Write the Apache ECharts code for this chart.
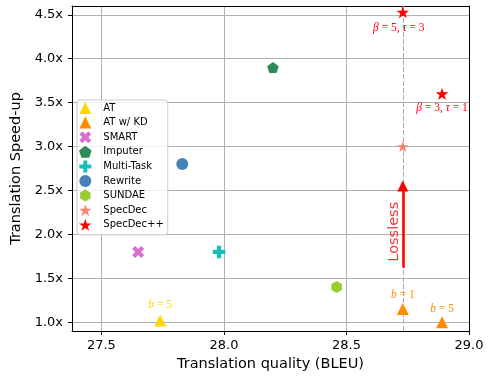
<!DOCTYPE html>
<html>
<head>
<meta charset="utf-8">
<script src="https://cdn.jsdelivr.net/npm/echarts@6/dist/echarts.min.js"></script>
<style>html,body{margin:0;padding:0;background:#fff}#c{width:490px;height:377px}</style>
</head>
<body>
<div id="c"></div>
<script>
// ---- data (BLEU, speed-up) ----
const atPoints        = [[27.74, 1.02]];
const atKdPoints      = [[28.73, 1.15], [28.89, 1.00]];
const smartPoints     = [[27.65, 1.80]];
const imputerPoints   = [[28.20, 3.90]];
const multiTaskPoints = [[27.98, 1.80]];
const rewritePoints   = [[27.83, 2.80]];
const sundaePoints    = [[28.46, 1.40]];
const specDecPoints   = [[28.73, 3.00]];
const specDecPPPoints = [[28.73, 4.53], [28.89, 3.60]];

const atNotes        = ['b=5'];
const atKdNotes      = ['b=1', 'b=5'];
const specDecPPNotes = ['β=5, τ=3', 'β=3, τ=1'];

const losslessX      = 28.73;
const losslessArrow  = [1.62, 2.55];
const losslessText   = 'Lossless';
const losslessTextAt = [28.693, 2.03];

const xRange = [27.38, 29.0];
const yRange = [0.9, 4.6];
const xName = 'Translation quality (BLEU)';
const yName = 'Translation Speed-up';
const legendNames = ['AT', 'AT w/ KD', 'SMART', 'Imputer', 'Multi-Task', 'Rewrite', 'SUNDAE', 'SpecDec', 'SpecDec++'];

// ---- symbols ----
const TRI  = 'path://M0,-100 L100,100 L-100,100 Z';
const STAR = 'path://M0,-100 L-22.45,-30.9 L-95.11,-30.9 L-36.33,11.8 L-58.78,80.9 L0,38.2 L58.78,80.9 L36.33,11.8 L95.11,-30.9 L22.45,-30.9 Z';
const PENT = 'path://M0,-100 L-95.11,-30.9 L-58.78,80.9 L58.78,80.9 L95.11,-30.9 Z';
const HEX  = 'path://M0,-100 L-86.6,-50 L-86.6,50 L0,100 L86.6,50 L86.6,-50 Z';
const PLUS = 'path://M-10,-30 L-10,-10 L-30,-10 L-30,10 L-10,10 L-10,30 L10,30 L10,10 L30,10 L30,-10 L10,-10 L10,-30 Z';
const XF   = 'path://M-10,-20 L0,-10 L10,-20 L20,-10 L10,0 L20,10 L10,20 L0,10 L-10,20 L-20,10 L-10,0 L-20,-10 Z';

const FONT = 'DejaVu Sans';
const SERIF = 'Liberation Serif';

// split "b=5" into rich text with italic letters and spaced '='
function mathRich(s) {
  return s.split(', ').map(part => {
    const [v, n] = part.split('=');
    return '{i|' + v + '}{n| = ' + n + '}';
  }).join('{n|, }');
}

function withNotes(points, notes, labelOpts) {
  return points.map((p, i) => ({
    value: p,
    label: Object.assign({ show: true, formatter: mathRich(notes[i]) }, labelOpts[i] || {})
  }));
}

const noteStyle = (color) => ({
  fontFamily: SERIF, fontSize: 11.5, color: color,
  rich: {
    i: { fontFamily: SERIF, fontStyle: 'italic', fontSize: 11.5, color: color },
    n: { fontFamily: SERIF, fontStyle: 'normal', fontSize: 11.5, color: color }
  }
});

const series = [
  { name: 'AT', type: 'scatter', symbol: TRI, symbolSize: [12, 12], itemStyle: { color: '#FFD700', opacity: 1 },
    data: withNotes(atPoints, atNotes, [{ position: 'top', distance: 3 }]),
    label: noteStyle('#FFD700'), z: 5 },
  { name: 'AT w/ KD', type: 'scatter', symbol: TRI, symbolSize: [12, 12], itemStyle: { color: '#FF8C00', opacity: 1 },
    data: withNotes(atKdPoints, atKdNotes, [{ position: 'top', distance: 2 }, { position: 'top', distance: 1 }]),
    label: noteStyle('#FF8C00'), z: 5 },
  { name: 'SMART', type: 'scatter', symbol: XF, symbolSize: [12, 12], itemStyle: { color: '#DA70D6', opacity: 1 }, data: smartPoints, z: 5 },
  { name: 'Imputer', type: 'scatter', symbol: PENT, symbolSize: [11.6, 11], itemStyle: { color: '#2E8B57', opacity: 1 }, data: imputerPoints, z: 5 },
  { name: 'Multi-Task', type: 'scatter', symbol: PLUS, symbolSize: [12.5, 12.5], itemStyle: { color: '#17BEBB', opacity: 1 }, data: multiTaskPoints, z: 5 },
  { name: 'Rewrite', type: 'scatter', symbol: 'circle', symbolSize: 12, itemStyle: { color: '#4682B4', opacity: 1 }, data: rewritePoints, z: 5 },
  { name: 'SUNDAE', type: 'scatter', symbol: HEX, symbolSize: [10.6, 12], itemStyle: { color: '#9ACD32', opacity: 1 }, data: sundaePoints, z: 5 },
  { name: 'SpecDec', type: 'scatter', symbol: STAR, symbolSize: [11.5, 11], itemStyle: { color: '#FA8072', opacity: 1 }, data: specDecPoints, z: 5,
    markLine: { silent: true, symbol: ['none', 'none'], label: { show: false },
      lineStyle: { color: '#aaaaaa', type: [5, 2], width: 1 }, data: [{ xAxis: losslessX }], z: 2 } },
  { name: 'SpecDec++', type: 'scatter', symbol: STAR, symbolSize: [13, 12.4], itemStyle: { color: '#FF0000', opacity: 1 },
    data: withNotes(specDecPPPoints, specDecPPNotes, [{ position: 'bottom', distance: 4, offset: [-4, 0] }, { position: 'bottom', distance: 2, offset: [0, 0] }]),
    label: noteStyle('#FF0000'), z: 6 },
  { name: '_arrow', type: 'scatter', data: [], z: 4,
    markLine: { silent: true, symbol: ['none', 'triangle'], symbolSize: 11, label: { show: false },
      lineStyle: { color: '#FF0000', type: 'solid', width: 2.6, opacity: 1 },
      data: [[{ coord: [losslessX, losslessArrow[0]] }, { coord: [losslessX, losslessArrow[1]] }]] } },
  { name: '_lossless', type: 'scatter', symbolSize: 0, z: 4, silent: true,
    data: [{ value: losslessTextAt, label: { show: true, formatter: losslessText, position: 'inside', rotate: 90,
      fontFamily: FONT, fontSize: 14.5, color: '#FF0000' } }] }
];

const option = {
  animation: false,
  backgroundColor: '#ffffff',
  textStyle: { fontFamily: FONT },
  grid: { left: 72, right: 21, top: 6, bottom: 45, containLabel: false },
  legend: {
    orient: 'vertical', left: 77, top: 100,
    data: legendNames,
    itemWidth: 26, itemHeight: 12, itemGap: 2.6, symbolKeepAspect: true,
    padding: [2, 4, 4, 2],
    backgroundColor: 'rgba(255,255,255,0.8)', borderColor: '#cccccc', borderWidth: 1, borderRadius: 3,
    textStyle: { fontFamily: FONT, fontSize: 10, color: '#000' },
    selectedMode: false
  },
  xAxis: [{
    type: 'value', min: xRange[0], max: xRange[1], splitNumber: 3, position: 'bottom',
    name: xName, nameLocation: 'middle', nameGap: 26,
    nameTextStyle: { fontFamily: FONT, fontSize: 14.5, color: '#000' },
    axisLine: { show: true, onZero: false, lineStyle: { color: '#000', width: 1 } },
    axisTick: { show: true, inside: false, length: 4, lineStyle: { color: '#000', width: 1 } },
    axisLabel: { fontFamily: FONT, fontSize: 13, color: '#000', margin: 8, showMinLabel: false,
      formatter: v => v.toFixed(1) },
    splitLine: { show: true, lineStyle: { color: '#b0b0b0', width: 1 } }
  }, {
    type: 'value', min: xRange[0], max: xRange[1], position: 'top',
    axisLine: { show: true, onZero: false, lineStyle: { color: '#000', width: 1 } },
    axisTick: { show: false }, axisLabel: { show: false }, splitLine: { show: false }
  }],
  yAxis: [{
    type: 'value', min: yRange[0], max: yRange[1], splitNumber: 7, position: 'left',
    name: yName, nameLocation: 'middle', nameGap: 37,
    nameTextStyle: { fontFamily: FONT, fontSize: 14.5, color: '#000' },
    axisLine: { show: true, onZero: false, lineStyle: { color: '#000', width: 1 } },
    axisTick: { show: true, inside: false, length: 4, lineStyle: { color: '#000', width: 1 } },
    axisLabel: { fontFamily: FONT, fontSize: 13, color: '#000', margin: 9, showMinLabel: false, showMaxLabel: false,
      formatter: v => v.toFixed(1) + 'x' },
    splitLine: { show: true, lineStyle: { color: '#b0b0b0', width: 1 } }
  }, {
    type: 'value', min: yRange[0], max: yRange[1], position: 'right',
    axisLine: { show: true, onZero: false, lineStyle: { color: '#000', width: 1 } },
    axisTick: { show: false }, axisLabel: { show: false }, splitLine: { show: false }
  }],
  series: series
};

const chart = echarts.init(document.getElementById('c'), null, { renderer: 'canvas' });
chart.setOption(option);
</script>
</body>
</html>
